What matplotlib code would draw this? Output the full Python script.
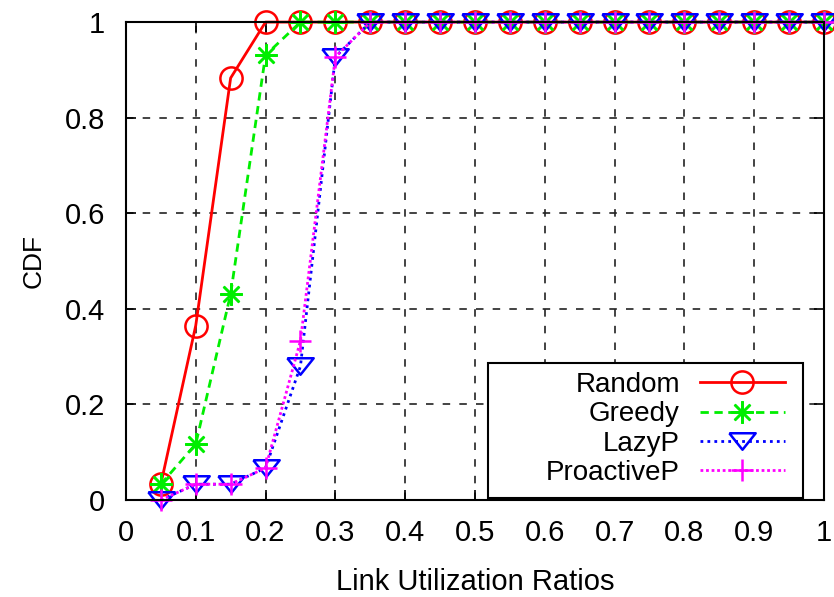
import matplotlib
matplotlib.use("Agg")
import matplotlib.pyplot as plt
from matplotlib.patches import Rectangle

plt.rcParams['font.family'] = ['Liberation Sans', 'DejaVu Sans']

x = [0.05, 0.1, 0.15, 0.2, 0.25, 0.3, 0.35, 0.4, 0.45, 0.5,
     0.55, 0.6, 0.65, 0.7, 0.75, 0.8, 0.85, 0.9, 0.95, 1.0]
random_cdf = [0.033, 0.365, 0.883, 1, 1, 1, 1, 1, 1, 1,
              1, 1, 1, 1, 1, 1, 1, 1, 1, 1]
greedy_cdf = [0.033, 0.117, 0.431, 0.931, 1, 1, 1, 1, 1, 1,
              1, 1, 1, 1, 1, 1, 1, 1, 1, 1]
lazyp_cdf = [0.0, 0.033, 0.033, 0.067, 0.28, 0.927, 1, 1, 1, 1,
             1, 1, 1, 1, 1, 1, 1, 1, 1, 1]
proactivep_cdf = [0.0, 0.033, 0.033, 0.067, 0.333, 0.927, 1, 1, 1, 1,
                  1, 1, 1, 1, 1, 1, 1, 1, 1, 1]

xticks = [0, 0.1, 0.2, 0.3, 0.4, 0.5, 0.6, 0.7, 0.8, 0.9, 1]
xticklabels = ["0", "0.1", "0.2", "0.3", "0.4", "0.5", "0.6", "0.7", "0.8", "0.9", "1"]
yticks = [0, 0.2, 0.4, 0.6, 0.8, 1]
yticklabels = ["0", "0.2", "0.4", "0.6", "0.8", "1"]

# wide, flat down-triangle like gnuplot's
tri_down = [(-1.6, 1.0), (1.6, 1.0), (0.0, -1.0), (-1.6, 1.0)]

fig = plt.figure(figsize=(8.34, 5.97), dpi=100)
ax = fig.add_axes([0.151, 0.1625, 0.837, 0.8005])

ax.plot(x, random_cdf, color="red", lw=2, ls="-", marker="o", ms=16,
        mfc="none", mew=1.8, label="Random", clip_on=False)
ax.plot(x, greedy_cdf, color="#00ee00", lw=2, ls=(0, (3, 2)), marker=(8, 2, 0), ms=16,
        mew=1.8, label="Greedy", clip_on=False)
ax.plot(x, lazyp_cdf, color="blue", lw=2, ls=(0, (1, 1.5)), marker=tri_down, ms=19,
        mfc="none", mew=1.8, label="LazyP", clip_on=False)
ax.plot(x, proactivep_cdf, color="magenta", lw=2, ls=(0, (1, 1)), marker="+", ms=16,
        mew=1.8, label="ProactiveP", clip_on=False)

ax.set_xlim(0, 1)
ax.set_ylim(0, 1)
ax.set_xticks(xticks)
ax.set_xticklabels(xticklabels)
ax.set_yticks(yticks)
ax.set_yticklabels(yticklabels)
ax.tick_params(direction="in", length=7, width=1.2, top=True, right=True,
               labelsize=21)
ax.tick_params(axis="x", pad=14)
ax.tick_params(axis="y", pad=15)
ax.grid(True, color="#222222", ls=(0, (4.5, 5.5)), lw=1.2)
for s in ax.spines.values():
    s.set_linewidth(1.5)

ax.set_xlabel("Link Utilization Ratios", fontsize=21, labelpad=15)
ax.set_ylabel("CDF", fontsize=19, labelpad=14)

# legend box drawn separately so it matches the gnuplot key size
ax.add_patch(Rectangle((0.5186, 0.004), 0.4514, 0.2826, transform=ax.transAxes,
                       facecolor="white", edgecolor="black", lw=1.5, zorder=4))
leg = ax.legend(loc="upper right", bbox_to_anchor=(0.944, 0.268), borderaxespad=0,
                borderpad=0, markerfirst=False, fontsize=20, handlelength=3.06,
                handletextpad=0.72, labelspacing=0.12, frameon=False)
leg.set_zorder(5)

fig.savefig("out.png", dpi=100)
